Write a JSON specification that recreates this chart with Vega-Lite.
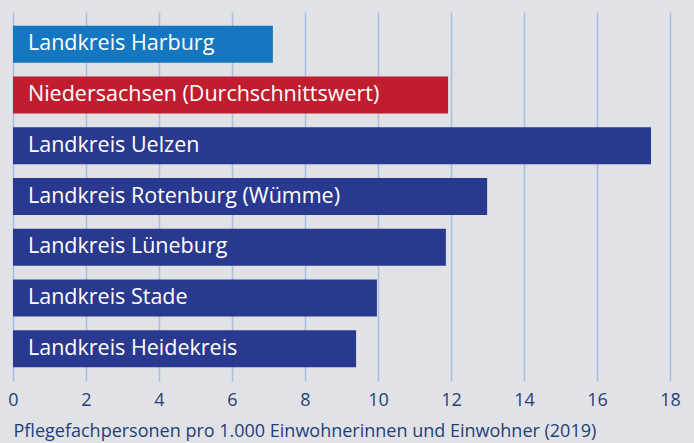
{
  "$schema": "https://vega.github.io/schema/vega-lite/v6.json",
  "width": 657,
  "height": 369,
  "autosize": {"type": "none"},
  "padding": {"left": 13, "top": 12, "right": 24, "bottom": 62},
  "background": "#e1e2e5",
  "config": {"view": {"stroke": null}, "font": "Open Sans"},
  "data": {"values": [
    {"name": "Landkreis Harburg", "value": 7.12, "grp": "harburg"},
    {"name": "Niedersachsen (Durchschnittswert)", "value": 11.92, "grp": "nds"},
    {"name": "Landkreis Uelzen", "value": 17.48, "grp": "other"},
    {"name": "Landkreis Rotenburg (Wümme)", "value": 12.99, "grp": "other"},
    {"name": "Landkreis Lüneburg", "value": 11.86, "grp": "other"},
    {"name": "Landkreis Stade", "value": 9.97, "grp": "other"},
    {"name": "Landkreis Heidekreis", "value": 9.4, "grp": "other"}
  ]},
  "encoding": {
    "y": {"field": "name", "type": "nominal", "sort": null,
      "scale": {"paddingInner": 0.27, "paddingOuter": 0.27}, "axis": null}
  },
  "layer": [
    {
      "mark": {"type": "bar"},
      "encoding": {
        "x": {"field": "value", "type": "quantitative",
          "scale": {"domain": [0, 18], "nice": false},
          "axis": {
            "values": [0, 2, 4, 6, 8, 10, 12, 14, 16, 18],
            "grid": true, "gridColor": "#a9bfe1", "gridWidth": 1.5,
            "domain": false, "ticks": false, "labelFlush": false,
            "labelFont": "Open Sans", "labelFontSize": 18, "labelColor": "#1e3f7a",
            "labelPadding": 10,
            "title": "Pflegefachpersonen pro 1.000 Einwohnerinnen und Einwohner (2019)",
            "titleFont": "Open Sans", "titleFontSize": 18, "titleFontWeight": "normal",
            "titleColor": "#1e3f7a", "titleAnchor": "start", "titleAlign": "left",
            "titlePadding": 13
          }
        },
        "color": {"field": "grp", "type": "nominal",
          "scale": {"domain": ["harburg", "nds", "other"], "range": ["#1477bf", "#c01d2e", "#2a3990"]},
          "legend": null}
      }
    },
    {
      "mark": {"type": "text", "align": "left", "baseline": "middle", "dx": 15, "color": "white",
        "font": "Open Sans", "fontSize": 21.5},
      "encoding": {
        "x": {"datum": 0, "type": "quantitative"},
        "text": {"field": "name"}
      }
    }
  ]
}
